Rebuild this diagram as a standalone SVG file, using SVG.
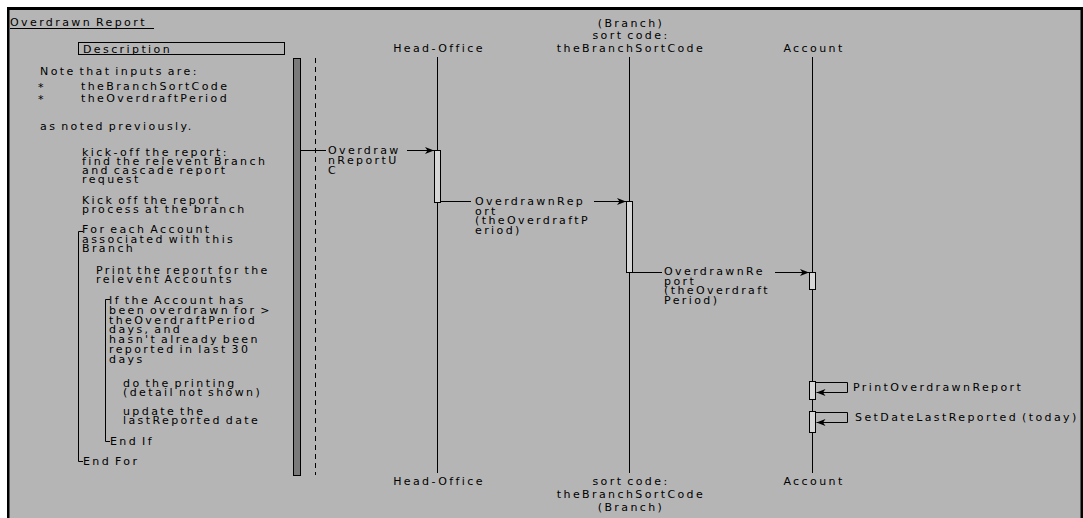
<svg xmlns="http://www.w3.org/2000/svg" width="1083" height="518" viewBox="0 0 1083 518">
<style>
.t{font-family:"DejaVu Sans",sans-serif;font-size:11px;letter-spacing:2.4px;word-spacing:-2px;fill:#000}
.c{text-anchor:middle}
.ln{stroke:#000;stroke-width:1;fill:none}
.act{fill:#d6d6d6;stroke:#000;stroke-width:1}
</style>
<defs>
<marker id="arr" markerWidth="10" markerHeight="8" refX="9" refY="4" orient="auto" markerUnits="userSpaceOnUse">
<path d="M0,0.5 L9,4 L0,7.5 L2.5,4 z" fill="#000"/>
</marker>
</defs>
<rect x="0" y="0" width="1083" height="518" fill="#ffffff"/>
<rect x="9" y="9" width="1072" height="509" fill="#b5b5b5"/>

<g id="title">
<text class="t" x="10" y="26">Overdrawn Report</text>
<line class="ln" x1="10" y1="28.5" x2="154" y2="28.5"/>
</g>

<g id="description">
<rect x="78.5" y="42.5" width="206" height="12" fill="none" stroke="#000" stroke-width="1"/>
<text class="t" x="83" y="52.5">Description</text>
</g>

<g id="notes">
<text class="t" x="40" y="75">Note that inputs are:</text>
<text class="t" x="38" y="91">*</text>
<text class="t" x="81" y="90">theBranchSortCode</text>
<text class="t" x="38" y="103">*</text>
<text class="t" x="81" y="102">theOverdraftPeriod</text>
<text class="t" x="40" y="130">as noted previously.</text>
<text class="t" x="82" y="155.7">kick-off the report:</text>
<text class="t" x="82" y="164.7">find the relevent Branch</text>
<text class="t" x="82" y="174">and cascade report</text>
<text class="t" x="82" y="183.3">request</text>
<text class="t" x="82" y="204">Kick off the report</text>
<text class="t" x="82" y="213.3">process at the branch</text>
<text class="t" x="82" y="233.3">For each Account</text>
<text class="t" x="82" y="243">associated with this</text>
<text class="t" x="82" y="252.3">Branch</text>
<text class="t" x="96" y="274">Print the report for the</text>
<text class="t" x="96" y="283.3">relevent Accounts</text>
<text class="t" x="109" y="304">If the Account has</text>
<text class="t" x="109" y="313.8">been overdrawn for &gt;</text>
<text class="t" x="109" y="323.6">theOverdraftPeriod</text>
<text class="t" x="109" y="333.4">days, and</text>
<text class="t" x="109" y="343.2">hasn't already been</text>
<text class="t" x="109" y="353">reported in last 30</text>
<text class="t" x="109" y="362.8">days</text>
<text class="t" x="123" y="386.5">do the printing</text>
<text class="t" x="123" y="396">(detail not shown)</text>
<text class="t" x="123" y="414.7">update the</text>
<text class="t" x="123" y="424">lastReported date</text>
<text class="t" x="110" y="444.7">End If</text>
<text class="t" x="83" y="464.7">End For</text>
<path class="ln" d="M83,231.5 H78.5 V461.5 H83"/>
<path class="ln" d="M110,299.5 H105.5 V441.5 H110"/>
</g>

<g id="actor-bar">
<rect x="293.5" y="58.5" width="7" height="417" fill="#7a7a7a" stroke="#000" stroke-width="1"/>
<line x1="315.5" y1="58" x2="315.5" y2="475" stroke="#000" stroke-width="1" stroke-dasharray="5,4"/>
</g>

<g id="head-office">
<text class="t c" x="439" y="52">Head-Office</text>
<line class="ln" x1="437.5" y1="57" x2="437.5" y2="473"/>
<rect class="act" x="434.5" y="150.5" width="6" height="52"/>
<text class="t c" x="439" y="485">Head-Office</text>
</g>

<g id="branch">
<text class="t c" x="631" y="26.5">(Branch)</text>
<text class="t c" x="631" y="39">sort code:</text>
<text class="t c" x="631" y="52">theBranchSortCode</text>
<line class="ln" x1="629.5" y1="57" x2="629.5" y2="473"/>
<rect class="act" x="626.5" y="201.5" width="6" height="71"/>
<text class="t c" x="631" y="485">sort code:</text>
<text class="t c" x="631" y="498">theBranchSortCode</text>
<text class="t c" x="631" y="511">(Branch)</text>
</g>

<g id="account">
<text class="t c" x="814" y="52">Account</text>
<line class="ln" x1="812.5" y1="57" x2="812.5" y2="473"/>
<rect class="act" x="809.5" y="272.5" width="6" height="17"/>
<rect class="act" x="809.5" y="381.5" width="6" height="18"/>
<rect class="act" x="809.5" y="411.5" width="6" height="21"/>
<text class="t c" x="814" y="485">Account</text>
</g>

<g id="connectors">
<line class="ln" x1="300.5" y1="150.5" x2="326" y2="150.5"/>
<line class="ln" x1="407" y1="150.5" x2="434" y2="150.5" marker-end="url(#arr)"/>
<text class="t" x="328" y="154">Overdraw</text>
<text class="t" x="328" y="164">nReportU</text>
<text class="t" x="328" y="173.5">C</text>

<line class="ln" x1="440.5" y1="201.5" x2="471" y2="201.5"/>
<line class="ln" x1="594" y1="201.5" x2="626" y2="201.5" marker-end="url(#arr)"/>
<text class="t" x="475" y="205">OverdrawnRep</text>
<text class="t" x="475" y="214.5">ort</text>
<text class="t" x="475" y="224">(theOverdraftP</text>
<text class="t" x="475" y="233.5">eriod)</text>

<line class="ln" x1="632.5" y1="272.5" x2="662" y2="272.5"/>
<line class="ln" x1="775" y1="272.5" x2="809" y2="272.5" marker-end="url(#arr)"/>
<text class="t" x="664" y="275">OverdrawnRe</text>
<text class="t" x="664" y="284.5">port</text>
<text class="t" x="664" y="294">(theOverdraft</text>
<text class="t" x="664" y="303.5">Period)</text>

<polyline class="ln" points="815.5,382.5 847.5,382.5 847.5,392.5 816.5,392.5" marker-end="url(#arr)"/>
<text class="t" x="853" y="390.5">PrintOverdrawnReport</text>

<polyline class="ln" points="815.5,412.5 847.5,412.5 847.5,422.5 816.5,422.5" marker-end="url(#arr)"/>
<text class="t" x="855" y="420.5">SetDateLastReported (today)</text>
</g>

<g id="frame">
<rect x="7" y="7" width="1076" height="3" fill="#000"/>
<rect x="7" y="7" width="2.5" height="511" fill="#000"/>
<rect x="1080.5" y="7" width="2.5" height="511" fill="#000"/>
</g>
</svg>
